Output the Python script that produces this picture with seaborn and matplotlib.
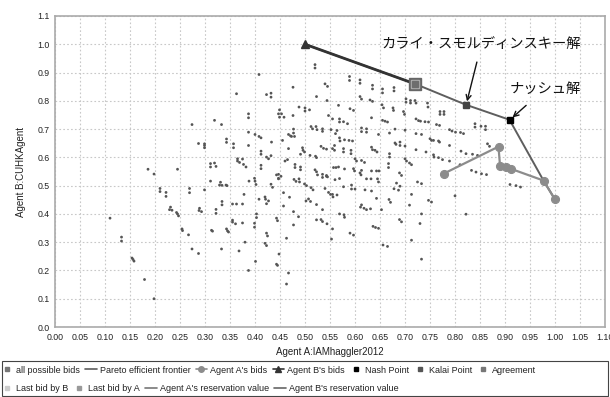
import matplotlib
matplotlib.use("Agg")
import matplotlib.pyplot as plt
import seaborn as sns
import pandas as pd
from matplotlib.lines import Line2D
from matplotlib.patches import Rectangle

# ---------------- data ----------------
possible_bids = [
    (0.11, 0.385), (0.133, 0.318), (0.133, 0.304), (0.154, 0.244), (0.156, 0.239), (0.158, 0.233),
    (0.179, 0.168), (0.198, 0.10), (0.21, 0.49), (0.21, 0.479), (0.222, 0.476), (0.222, 0.462),
    (0.231, 0.424), (0.229, 0.415), (0.234, 0.413), (0.243, 0.405), (0.245, 0.40), (0.247, 0.393),
    (0.254, 0.347), (0.255, 0.341), (0.267, 0.326), (0.269, 0.49), (0.269, 0.475), (0.274, 0.276),
    (0.287, 0.26), (0.299, 0.485), (0.289, 0.42), (0.288, 0.412), (0.293, 0.408), (0.311, 0.516),
    (0.313, 0.342), (0.315, 0.339), (0.322, 0.416), (0.322, 0.402), (0.331, 0.512), (0.329, 0.502),
    (0.334, 0.501), (0.342, 0.502), (0.344, 0.50), (0.334, 0.444), (0.334, 0.432), (0.333, 0.276),
    (0.343, 0.347), (0.345, 0.34), (0.347, 0.336), (0.355, 0.435), (0.363, 0.435), (0.375, 0.435),
    (0.355, 0.378), (0.355, 0.371), (0.361, 0.365), (0.375, 0.368), (0.38, 0.30), (0.368, 0.269),
    (0.378, 0.469), (0.388, 0.516), (0.387, 0.20),
    (0.399, 0.526), (0.40, 0.516), (0.402, 0.504), (0.443, 0.538), (0.447, 0.524), (0.408, 0.452),
    (0.42, 0.46), (0.421, 0.452), (0.427, 0.446), (0.423, 0.436), (0.432, 0.505), (0.435, 0.494),
    (0.457, 0.475), (0.457, 0.428), (0.478, 0.522), (0.482, 0.515), (0.488, 0.524), (0.489, 0.513),
    (0.469, 0.459), (0.499, 0.506), (0.503, 0.50), (0.512, 0.493), (0.516, 0.485), (0.502, 0.446),
    (0.507, 0.453), (0.511, 0.444), (0.523, 0.433), (0.535, 0.415), (0.525, 0.538), (0.535, 0.529),
    (0.543, 0.533), (0.54, 0.49), (0.547, 0.476), (0.551, 0.469), (0.556, 0.46), (0.555, 0.469),
    (0.564, 0.467), (0.577, 0.496), (0.593, 0.502), (0.593, 0.488), (0.60, 0.488), (0.612, 0.538),
    (0.623, 0.524), (0.632, 0.524), (0.645, 0.524), (0.647, 0.513), (0.62, 0.485), (0.633, 0.481),
    (0.613, 0.432), (0.611, 0.424), (0.618, 0.42), (0.623, 0.415), (0.631, 0.418), (0.643, 0.455),
    (0.653, 0.415), (0.668, 0.451), (0.671, 0.441), (0.569, 0.40), (0.578, 0.397), (0.579, 0.388),
    (0.523, 0.379), (0.532, 0.38), (0.535, 0.373), (0.544, 0.365), (0.555, 0.347), (0.553, 0.311),
    (0.59, 0.332), (0.597, 0.325), (0.636, 0.356), (0.641, 0.352), (0.647, 0.349), (0.477, 0.408),
    (0.487, 0.39), (0.477, 0.361), (0.443, 0.385), (0.445, 0.376), (0.403, 0.40), (0.403, 0.387),
    (0.399, 0.367), (0.399, 0.353), (0.423, 0.332), (0.425, 0.322), (0.42, 0.296), (0.423, 0.288),
    (0.463, 0.314), (0.448, 0.258), (0.443, 0.222), (0.445, 0.218), (0.401, 0.232), (0.467, 0.191),
    (0.463, 0.152), (0.656, 0.29), (0.665, 0.285),
    (0.68, 0.651), (0.682, 0.646), (0.69, 0.654), (0.69, 0.642), (0.70, 0.64), (0.722, 0.627),
    (0.742, 0.619), (0.753, 0.66), (0.769, 0.654), (0.789, 0.642), (0.757, 0.609), (0.758, 0.601),
    (0.767, 0.599), (0.775, 0.592), (0.789, 0.587), (0.812, 0.622), (0.822, 0.613), (0.835, 0.611),
    (0.845, 0.607), (0.865, 0.648), (0.869, 0.639), (0.81, 0.574), (0.833, 0.554), (0.842, 0.548),
    (0.853, 0.542), (0.863, 0.539), (0.70, 0.595), (0.703, 0.587), (0.709, 0.58), (0.713, 0.574),
    (0.689, 0.545), (0.693, 0.536), (0.683, 0.509), (0.69, 0.498), (0.678, 0.489), (0.687, 0.484),
    (0.725, 0.513), (0.733, 0.507), (0.713, 0.469), (0.709, 0.431), (0.747, 0.448), (0.753, 0.442),
    (0.80, 0.464), (0.733, 0.40), (0.822, 0.399), (0.689, 0.38), (0.693, 0.372), (0.73, 0.366),
    (0.713, 0.307), (0.733, 0.24), (0.91, 0.504), (0.922, 0.50), (0.931, 0.495),
    (0.363, 0.825), (0.387, 0.754), (0.387, 0.74), (0.274, 0.716), (0.319, 0.731), (0.333, 0.716),
    (0.387, 0.689), (0.287, 0.649), (0.299, 0.648), (0.299, 0.642), (0.299, 0.634), (0.343, 0.665),
    (0.343, 0.653), (0.357, 0.648), (0.357, 0.634), (0.387, 0.642), (0.365, 0.595), (0.365, 0.587),
    (0.369, 0.582), (0.375, 0.594), (0.377, 0.575), (0.382, 0.566), (0.311, 0.578), (0.311, 0.566),
    (0.319, 0.58), (0.322, 0.568), (0.186, 0.558), (0.198, 0.541), (0.245, 0.558),
    (0.52, 0.928), (0.52, 0.916), (0.408, 0.893), (0.476, 0.848), (0.423, 0.822), (0.432, 0.827),
    (0.432, 0.813), (0.523, 0.815), (0.54, 0.86), (0.545, 0.851), (0.544, 0.801), (0.589, 0.886),
    (0.589, 0.872), (0.61, 0.874), (0.61, 0.862), (0.635, 0.855), (0.635, 0.842), (0.655, 0.842),
    (0.655, 0.828), (0.61, 0.815), (0.613, 0.806), (0.63, 0.803), (0.635, 0.798), (0.567, 0.784),
    (0.59, 0.772), (0.597, 0.766), (0.488, 0.778), (0.50, 0.775), (0.50, 0.764), (0.509, 0.768),
    (0.449, 0.768), (0.447, 0.754), (0.453, 0.754), (0.449, 0.742), (0.458, 0.742), (0.476, 0.748),
    (0.547, 0.748), (0.555, 0.736), (0.569, 0.736), (0.569, 0.725), (0.577, 0.726), (0.585, 0.719),
    (0.633, 0.74), (0.654, 0.786), (0.657, 0.775), (0.676, 0.775), (0.677, 0.766), (0.655, 0.731),
    (0.66, 0.728), (0.665, 0.725), (0.512, 0.709), (0.522, 0.709), (0.515, 0.701), (0.524, 0.698),
    (0.535, 0.701), (0.535, 0.692), (0.477, 0.70), (0.477, 0.686), (0.552, 0.698), (0.564, 0.695),
    (0.561, 0.684), (0.613, 0.704), (0.613, 0.691), (0.623, 0.701), (0.623, 0.689), (0.40, 0.681),
    (0.408, 0.674), (0.412, 0.669), (0.467, 0.681), (0.471, 0.676), (0.473, 0.674), (0.479, 0.674),
    (0.433, 0.654), (0.569, 0.669), (0.57, 0.658), (0.579, 0.662), (0.588, 0.66), (0.595, 0.658),
    (0.559, 0.642), (0.647, 0.681), (0.669, 0.686), (0.455, 0.66), (0.467, 0.631), (0.495, 0.634),
    (0.496, 0.625), (0.499, 0.619), (0.491, 0.611), (0.532, 0.639), (0.537, 0.632), (0.543, 0.629),
    (0.555, 0.631), (0.559, 0.625), (0.577, 0.631), (0.577, 0.619), (0.592, 0.625), (0.592, 0.613),
    (0.633, 0.636), (0.635, 0.627), (0.64, 0.625), (0.644, 0.619), (0.669, 0.613), (0.669, 0.601),
    (0.412, 0.622), (0.412, 0.611), (0.423, 0.601), (0.427, 0.595), (0.432, 0.606), (0.51, 0.607),
    (0.521, 0.604), (0.523, 0.599), (0.46, 0.587), (0.465, 0.592), (0.48, 0.575), (0.48, 0.564),
    (0.491, 0.566), (0.491, 0.556), (0.412, 0.572), (0.412, 0.56), (0.52, 0.556), (0.523, 0.549),
    (0.557, 0.564), (0.562, 0.564), (0.567, 0.566), (0.579, 0.559), (0.60, 0.595), (0.603, 0.587),
    (0.613, 0.589), (0.619, 0.582), (0.597, 0.56), (0.599, 0.552), (0.613, 0.554), (0.61, 0.545),
    (0.667, 0.578), (0.667, 0.564), (0.633, 0.552), (0.643, 0.552), (0.648, 0.552), (0.447, 0.54),
    (0.452, 0.533), (0.447, 0.526), (0.535, 0.54), (0.543, 0.536), (0.545, 0.531), (0.56, 0.521),
    (0.569, 0.525),
    (0.678, 0.847), (0.678, 0.835), (0.702, 0.807), (0.702, 0.795), (0.711, 0.801), (0.711, 0.792),
    (0.72, 0.801), (0.722, 0.792), (0.745, 0.792), (0.746, 0.778), (0.697, 0.762), (0.699, 0.752),
    (0.722, 0.736), (0.727, 0.73), (0.731, 0.728), (0.74, 0.726), (0.747, 0.725), (0.77, 0.762),
    (0.778, 0.762), (0.77, 0.752), (0.778, 0.752), (0.763, 0.716), (0.769, 0.713), (0.789, 0.698),
    (0.794, 0.693), (0.801, 0.689), (0.811, 0.688), (0.817, 0.684), (0.84, 0.719), (0.84, 0.707),
    (0.852, 0.71), (0.861, 0.71), (0.861, 0.698), (0.68, 0.70), (0.70, 0.696), (0.722, 0.684),
    (0.733, 0.681), (0.75, 0.666), (0.757, 0.66), (0.767, 0.658),
]

pareto_a = [0.50, 0.72, 0.822, 0.909, 0.977, 1.00]
pareto_b = [1.00, 0.86, 0.786, 0.733, 0.518, 0.451]

agent_a_bids_a = [1.00, 0.977, 0.911, 0.902, 0.890, 0.887, 0.777]
agent_a_bids_b = [0.451, 0.518, 0.560, 0.566, 0.571, 0.638, 0.542]

agent_b_bids_a = [0.50, 0.72]
agent_b_bids_b = [1.00, 0.86]

nash_point = (0.909, 0.733)
kalai_point = (0.822, 0.786)
agreement_point = (0.72, 0.86)

x_ticks = [0.00, 0.05, 0.10, 0.15, 0.20, 0.25, 0.30, 0.35, 0.40, 0.45, 0.50, 0.55,
           0.60, 0.65, 0.70, 0.75, 0.80, 0.85, 0.90, 0.95, 1.00, 1.05, 1.10]
y_ticks = [0.0, 0.1, 0.2, 0.3, 0.4, 0.5, 0.6, 0.7, 0.8, 0.9, 1.0, 1.1]

x_label = "Agent A:IAMhaggler2012"
y_label = "Agent B:CUHKAgent"
kalai_label = "カライ・スモルディンスキー解"
nash_label = "ナッシュ解"

# ---------------- style ----------------
sns.set_style("white")
plt.rcParams['font.family'] = ['Liberation Sans', 'Noto Sans CJK JP', 'DejaVu Sans']

fig = plt.figure(figsize=(6.10, 3.97), dpi=100)
ax = fig.add_axes([0.0902, 0.1763, 0.9016, 0.7834])

bids_df = pd.DataFrame(possible_bids, columns=["a", "b"])
sns.scatterplot(data=bids_df, x="a", y="b", ax=ax, marker="o", s=4,
                color="#555555", edgecolor="none", linewidth=0, zorder=3, legend=False)

sns.lineplot(x=pareto_a, y=pareto_b, ax=ax, sort=False, estimator=None,
             color="#5e5e5e", lw=1.4, zorder=4)

sns.lineplot(x=agent_a_bids_a, y=agent_a_bids_b, ax=ax, sort=False, estimator=None,
             color="#8c8c8c", lw=1.6, marker="o", markersize=5.8,
             markeredgecolor="#8c8c8c", zorder=5)

sns.lineplot(x=agent_b_bids_a, y=agent_b_bids_b, ax=ax, sort=False, estimator=None,
             color="#333333", lw=2.0, zorder=6)
ax.plot(agent_b_bids_a[:1], agent_b_bids_b[:1], marker="^", ms=5.5, color="#333333",
        ls="", zorder=7)

ax.plot([agreement_point[0]], [agreement_point[1]], marker="s", ms=8.5, color="#666666",
        ls="", zorder=7)
ax.plot([agreement_point[0]], [agreement_point[1]], marker="s", ms=6.0, color="#b0b0b0",
        ls="", zorder=8)
ax.plot([agreement_point[0]], [agreement_point[1]], marker="s", ms=4.0, color="#6e6e6e",
        ls="", zorder=9)
ax.plot([kalai_point[0]], [kalai_point[1]], marker="s", ms=4.3, color="#444444",
        ls="", zorder=8)
ax.plot([nash_point[0]], [nash_point[1]], marker="s", ms=4.3, color="#000000",
        ls="", zorder=8)

ax.set_xlim(0, 1.10)
ax.set_ylim(0, 1.10)
ax.set_xticks(x_ticks)
ax.set_xticklabels([f"{t:.2f}" for t in x_ticks])
ax.set_yticks(y_ticks)
ax.set_yticklabels([f"{t:.1f}" for t in y_ticks])
ax.tick_params(axis="both", labelsize=6.3, colors="#222222", length=0, pad=4)
ax.grid(True, color="#c8c8c8", linestyle=(0, (1.5, 2)), linewidth=0.8)
ax.set_axisbelow(True)
for side in ["left", "bottom", "top", "right"]:
    ax.spines[side].set_visible(True)
    ax.spines[side].set_color("#aaaaaa")
    ax.spines[side].set_linewidth(1.2)

ax.set_xlabel(x_label, fontsize=7, labelpad=4, color="#222222")
ax.set_ylabel(y_label, fontsize=7, labelpad=8, color="#222222")

cjk = ['Noto Sans CJK JP', 'DejaVu Sans']
ax.annotate(kalai_label, xy=(0.824, 0.798), xytext=(0.853, 1.002),
            fontsize=10.3, family=cjk, ha="center", va="center", color="#111111",
            arrowprops=dict(arrowstyle="->", color="#111111", lw=1.0,
                            shrinkA=6, shrinkB=0, mutation_scale=9), zorder=10)
ax.annotate(nash_label, xy=(0.915, 0.741), xytext=(0.98, 0.843),
            fontsize=10.3, family=cjk, ha="center", va="center", color="#111111",
            arrowprops=dict(arrowstyle="->", color="#111111", lw=1.0,
                            shrinkA=7, shrinkB=0, mutation_scale=9), zorder=10)

# ---------------- legend ----------------
row1 = [
    Line2D([], [], marker="s", ls="", color="#777777", ms=3.5, label="all possible bids"),
    Line2D([], [], color="#5e5e5e", lw=1.2, label="Pareto efficient frontier"),
    Line2D([], [], color="#8c8c8c", lw=1.2, marker="o", ms=4, label="Agent A's bids"),
    Line2D([], [], color="#333333", lw=1.2, marker="^", ms=4, label="Agent B's bids"),
    Line2D([], [], marker="s", ls="", color="#000000", ms=3.5, label="Nash Point"),
    Line2D([], [], marker="s", ls="", color="#555555", ms=3.5, label="Kalai Point"),
    Line2D([], [], marker="s", ls="", color="#777777", ms=3.5, label="Agreement"),
]
row2 = [
    Line2D([], [], marker="s", ls="", color="#cccccc", ms=3.5, label="Last bid by B"),
    Line2D([], [], marker="s", ls="", color="#999999", ms=3.5, label="Last bid by A"),
    Line2D([], [], color="#777777", lw=1.2, label="Agent A's reservation value"),
    Line2D([], [], color="#666666", lw=1.2, label="Agent B's reservation value"),
]
common = dict(frameon=False, fontsize=6.5, handlelength=1.3, handletextpad=0.35,
              columnspacing=0.55, borderpad=0, borderaxespad=0, loc="center left")
leg1 = fig.legend(handles=row1, ncol=len(row1), bbox_to_anchor=(0.002, 0.068), **common)
leg2 = fig.legend(handles=row2, ncol=len(row2), bbox_to_anchor=(0.002, 0.021), **common)
for lg in (leg1, leg2):
    for t in lg.get_texts():
        t.set_color("#222222")

fig.patches.append(Rectangle((0.003, 0.003), 0.993, 0.088, transform=fig.transFigure,
                             fill=False, edgecolor="#444444", lw=0.8))

fig.savefig("out.png", dpi=100)
